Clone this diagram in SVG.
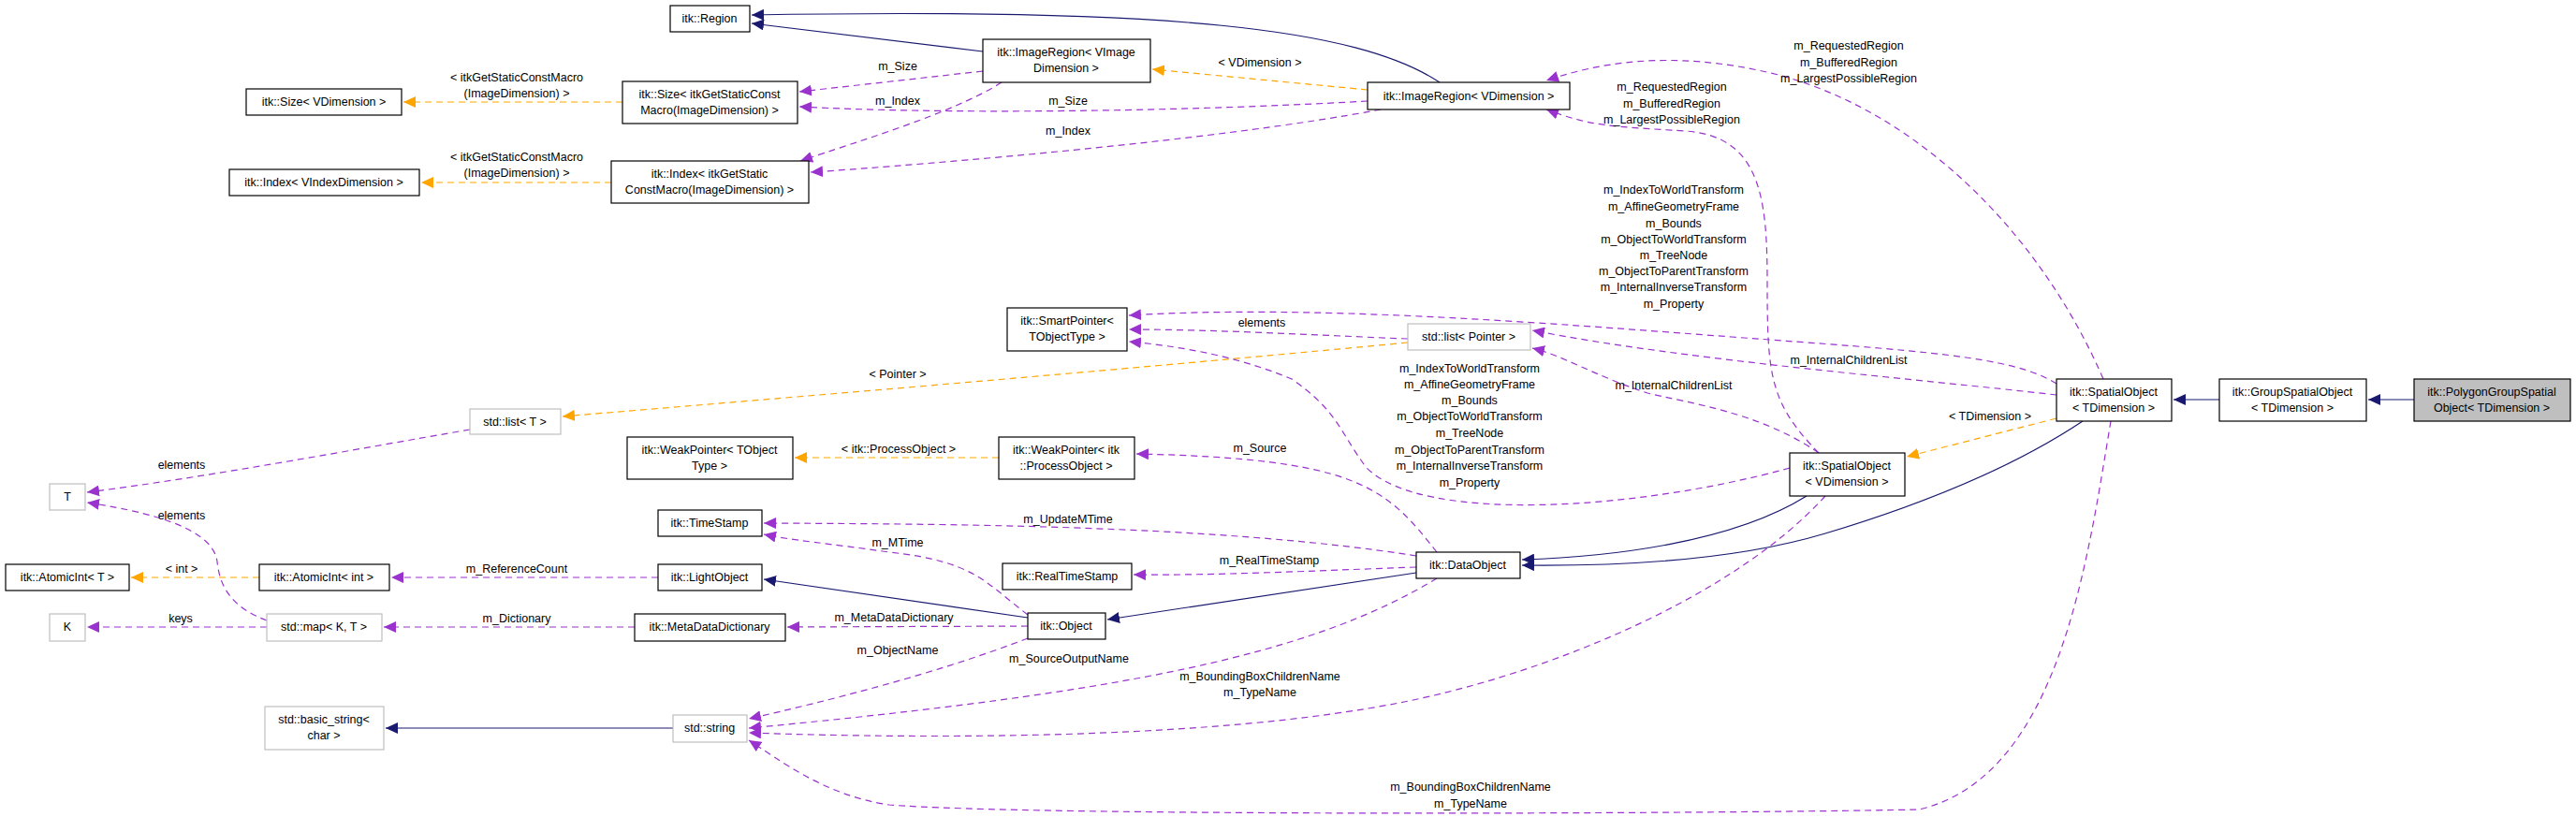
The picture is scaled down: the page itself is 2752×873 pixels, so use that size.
<svg xmlns="http://www.w3.org/2000/svg" width="2752" height="873" viewBox="0 0 2752 873">
<style>
text{font-family:"Liberation Sans",Arial,sans-serif;font-size:12.5px;fill:#000;text-anchor:middle}
.n rect{fill:#fff;stroke:#000;stroke-width:1.2}
.g rect{fill:#fff;stroke:#bfbfbf;stroke-width:1.2}
.e path{fill:none;stroke-width:1.2}
.inh{stroke:#191970}
.use{stroke:#9a32cd;stroke-dasharray:7,5}
.tpl{stroke:#ffa500;stroke-dasharray:7,5}
</style>
<defs>
<marker id="an" markerUnits="userSpaceOnUse" markerWidth="14" markerHeight="12" refX="13" refY="6" orient="auto"><path d="M0,0L13,6L0,12z" fill="#191970"/></marker>
<marker id="ap" markerUnits="userSpaceOnUse" markerWidth="14" markerHeight="12" refX="13" refY="6" orient="auto"><path d="M0,0L13,6L0,12z" fill="#9a32cd"/></marker>
<marker id="ao" markerUnits="userSpaceOnUse" markerWidth="14" markerHeight="12" refX="13" refY="6" orient="auto"><path d="M0,0L13,6L0,12z" fill="#ffa500"/></marker>
</defs>
<rect width="2752" height="873" fill="#fff"/>
<g id="connectors" class="e">
<path class="inh" marker-end="url(#an)" d="M1050,55 L803,25"/>
<path class="inh" marker-end="url(#an)" d="M1538,88 C1450,30 1250,8 803,16"/>
<path class="tpl" marker-end="url(#ao)" d="M1461,96 L1231,74"/>
<path class="use" marker-end="url(#ap)" d="M1050,76 L854,98"/>
<path class="use" marker-end="url(#ap)" d="M1461,108 C1250,120 1000,122 854,114"/>
<path class="use" marker-end="url(#ap)" d="M1070,88 C1020,120 920,150 855,172"/>
<path class="use" marker-end="url(#ap)" d="M1475,117 C1300,150 1000,175 866,184"/>
<path class="tpl" marker-end="url(#ao)" d="M665,109 L431,109"/>
<path class="tpl" marker-end="url(#ao)" d="M653,195 L450,195"/>
<path class="use" marker-end="url(#ap)" d="M2247,405 C2180,250 2050,120 1900,80 C1780,50 1700,70 1652,86"/>
<path class="use" marker-end="url(#ap)" d="M1943,484 C1890,430 1888,400 1888,300 C1888,210 1880,145 1800,140 C1720,135 1700,135 1652,117"/>
<path class="use" marker-end="url(#ap)" d="M2197,410 C2150,380 2050,375 1850,360 C1650,345 1400,325 1206,337"/>
<path class="use" marker-end="url(#ap)" d="M2197,422 C2050,405 1800,385 1637,353"/>
<path class="use" marker-end="url(#ap)" d="M1504,362 C1400,358 1300,352 1206,352"/>
<path class="tpl" marker-end="url(#ao)" d="M1504,366 C1200,395 900,420 601,445"/>
<path class="use" marker-end="url(#ap)" d="M1912,500 C1750,545 1520,560 1460,500 C1430,460 1430,440 1380,405 C1320,380 1260,370 1206,365"/>
<path class="use" marker-end="url(#ap)" d="M1943,484 C1880,440 1800,430 1760,420 C1700,400 1670,380 1637,372"/>
<path class="tpl" marker-end="url(#ao)" d="M2197,447 L2037,488"/>
<path class="inh" marker-end="url(#an)" d="M2371,427 L2322,427"/>
<path class="inh" marker-end="url(#an)" d="M2579,427 L2530,427"/>
<path class="inh" marker-end="url(#an)" d="M1930,530 C1850,580 1720,595 1626,598"/>
<path class="inh" marker-end="url(#an)" d="M2225,450 C2150,500 2050,540 1950,570 C1850,600 1720,605 1626,604"/>
<path class="inh" marker-end="url(#an)" d="M1513,612 L1183,662"/>
<path class="inh" marker-end="url(#an)" d="M1098,660 L816,619"/>
<path class="use" marker-end="url(#ap)" d="M1513,594 C1300,560 1000,560 816,559"/>
<path class="use" marker-end="url(#ap)" d="M1098,657 C1050,620 1040,600 950,590 C880,580 850,578 816,571"/>
<path class="use" marker-end="url(#ap)" d="M1513,606 C1400,610 1300,615 1211,614"/>
<path class="use" marker-end="url(#ap)" d="M1535,590 C1480,520 1450,490 1214,485"/>
<path class="tpl" marker-end="url(#ao)" d="M1067,489 L849,489"/>
<path class="use" marker-end="url(#ap)" d="M1098,669 L841,670"/>
<path class="use" marker-end="url(#ap)" d="M1098,682 C1000,720 880,750 800,768"/>
<path class="use" marker-end="url(#ap)" d="M1535,618 C1400,700 1200,740 800,778"/>
<path class="use" marker-end="url(#ap)" d="M1950,530 C1850,640 1650,720 1500,750 C1300,790 1000,790 800,783"/>
<path class="use" marker-end="url(#ap)" d="M2255,450 C2230,600 2200,830 2050,865 C1800,870 1100,872 950,860 C880,850 830,810 800,791"/>
<path class="inh" marker-end="url(#an)" d="M719,778 L412,778"/>
<path class="use" marker-end="url(#ap)" d="M703,617 L418,617"/>
<path class="tpl" marker-end="url(#ao)" d="M277,617 L140,617"/>
<path class="use" marker-end="url(#ap)" d="M678,670 L410,670"/>
<path class="use" marker-end="url(#ap)" d="M285,670 L93,670"/>
<path class="use" marker-end="url(#ap)" d="M502,459 C380,480 220,510 93,526"/>
<path class="use" marker-end="url(#ap)" d="M285,663 C250,650 235,630 232,600 C228,570 180,550 93,537"/>
</g>
<g id="edge-labels">
<text x="552" y="87">&lt; itkGetStaticConstMacro</text><text x="552" y="104">(ImageDimension) &gt;</text>
<text x="552" y="172">&lt; itkGetStaticConstMacro</text><text x="552" y="189">(ImageDimension) &gt;</text>
<text x="1346" y="71">&lt; VDimension &gt;</text>
<text x="959" y="75">m_Size</text><text x="959" y="112">m_Index</text>
<text x="1141" y="112">m_Size</text><text x="1141" y="144">m_Index</text>
<text x="1975" y="53">m_RequestedRegion</text><text x="1975" y="71">m_BufferedRegion</text><text x="1975" y="88">m_LargestPossibleRegion</text>
<text x="1786" y="97">m_RequestedRegion</text><text x="1786" y="115">m_BufferedRegion</text><text x="1786" y="132">m_LargestPossibleRegion</text>
<text x="1788" y="207">m_IndexToWorldTransform</text><text x="1788" y="225">m_AffineGeometryFrame</text><text x="1788" y="243">m_Bounds</text><text x="1788" y="260">m_ObjectToWorldTransform</text><text x="1788" y="277">m_TreeNode</text><text x="1788" y="294">m_ObjectToParentTransform</text><text x="1788" y="311">m_InternalInverseTransform</text><text x="1788" y="329">m_Property</text>
<text x="1348" y="349">elements</text>
<text x="959" y="404">&lt; Pointer &gt;</text>
<text x="1788" y="416">m_InternalChildrenList</text>
<text x="1975" y="389">m_InternalChildrenList</text>
<text x="2126" y="449">&lt; TDimension &gt;</text>
<text x="1570" y="398">m_IndexToWorldTransform</text><text x="1570" y="415">m_AffineGeometryFrame</text><text x="1570" y="432">m_Bounds</text><text x="1570" y="449">m_ObjectToWorldTransform</text><text x="1570" y="467">m_TreeNode</text><text x="1570" y="485">m_ObjectToParentTransform</text><text x="1570" y="502">m_InternalInverseTransform</text><text x="1570" y="520">m_Property</text>
<text x="960" y="484">&lt; itk::ProcessObject &gt;</text>
<text x="1346" y="483">m_Source</text>
<text x="1141" y="559">m_UpdateMTime</text>
<text x="959" y="584">m_MTime</text>
<text x="1356" y="603">m_RealTimeStamp</text>
<text x="955" y="664">m_MetaDataDictionary</text>
<text x="959" y="699">m_ObjectName</text>
<text x="1142" y="708">m_SourceOutputName</text>
<text x="1346" y="727">m_BoundingBoxChildrenName</text><text x="1346" y="744">m_TypeName</text>
<text x="1571" y="845">m_BoundingBoxChildrenName</text><text x="1571" y="863">m_TypeName</text>
<text x="194" y="501">elements</text><text x="194" y="555">elements</text>
<text x="194" y="612">&lt; int &gt;</text>
<text x="552" y="612">m_ReferenceCount</text>
<text x="193" y="665">keys</text>
<text x="552" y="665">m_Dictionary</text>
</g>
<g id="region" class="n"><rect x="716" y="6" width="85" height="28"/><text x="758" y="24">itk::Region</text></g>
<g id="sizeV" class="n"><rect x="263" y="95" width="166" height="28"/><text x="346" y="113">itk::Size&lt; VDimension &gt;</text></g>
<g id="sizeM" class="n"><rect x="665" y="87" width="187" height="45"/><text x="758" y="105">itk::Size&lt; itkGetStaticConst</text><text x="758" y="122">Macro(ImageDimension) &gt;</text></g>
<g id="indexV" class="n"><rect x="245" y="181" width="203" height="28"/><text x="346" y="199">itk::Index&lt; VIndexDimension &gt;</text></g>
<g id="indexM" class="n"><rect x="653" y="172" width="211" height="45"/><text x="758" y="190">itk::Index&lt; itkGetStatic</text><text x="758" y="207">ConstMacro(ImageDimension) &gt;</text></g>
<g id="imgRegionVI" class="n"><rect x="1050" y="42" width="179" height="46"/><text x="1139" y="60">itk::ImageRegion&lt; VImage</text><text x="1139" y="77">Dimension &gt;</text></g>
<g id="imgRegionV" class="n"><rect x="1461" y="88" width="216" height="29"/><text x="1569" y="107">itk::ImageRegion&lt; VDimension &gt;</text></g>
<g id="smartPtr" class="n"><rect x="1076" y="329" width="128" height="46"/><text x="1140" y="347">itk::SmartPointer&lt;</text><text x="1140" y="364">TObjectType &gt;</text></g>
<g id="listPointer" class="g"><rect x="1504" y="346" width="131" height="28"/><text x="1569" y="364">std::list&lt; Pointer &gt;</text></g>
<g id="listT" class="g"><rect x="502" y="437" width="97" height="27"/><text x="550" y="455">std::list&lt; T &gt;</text></g>
<g id="weakT" class="n"><rect x="670" y="467" width="177" height="45"/><text x="758" y="485">itk::WeakPointer&lt; TObject</text><text x="758" y="502">Type &gt;</text></g>
<g id="weakPO" class="n"><rect x="1067" y="467" width="145" height="45"/><text x="1139" y="485">itk::WeakPointer&lt; itk</text><text x="1139" y="502">::ProcessObject &gt;</text></g>
<g id="T" class="g"><rect x="53" y="517" width="38" height="28"/><text x="72" y="535">T</text></g>
<g id="timeStamp" class="n"><rect x="703" y="545" width="111" height="28"/><text x="758" y="563">itk::TimeStamp</text></g>
<g id="realTimeStamp" class="n"><rect x="1071" y="602" width="138" height="28"/><text x="1140" y="620">itk::RealTimeStamp</text></g>
<g id="dataObject" class="n"><rect x="1513" y="590" width="111" height="28"/><text x="1568" y="608">itk::DataObject</text></g>
<g id="atomicT" class="n"><rect x="6" y="603" width="132" height="28"/><text x="72" y="621">itk::AtomicInt&lt; T &gt;</text></g>
<g id="atomicInt" class="n"><rect x="277" y="603" width="139" height="28"/><text x="346" y="621">itk::AtomicInt&lt; int &gt;</text></g>
<g id="lightObject" class="n"><rect x="703" y="603" width="111" height="28"/><text x="758" y="621">itk::LightObject</text></g>
<g id="K" class="g"><rect x="53" y="656" width="38" height="29"/><text x="72" y="674">K</text></g>
<g id="map" class="g"><rect x="285" y="656" width="123" height="29"/><text x="346" y="674">std::map&lt; K, T &gt;</text></g>
<g id="metaDict" class="n"><rect x="678" y="656" width="161" height="29"/><text x="758" y="674">itk::MetaDataDictionary</text></g>
<g id="object" class="n"><rect x="1098" y="655" width="83" height="28"/><text x="1139" y="673">itk::Object</text></g>
<g id="basicString" class="g"><rect x="283" y="755" width="127" height="46"/><text x="346" y="773">std::basic_string&lt;</text><text x="346" y="790">char &gt;</text></g>
<g id="string" class="g"><rect x="719" y="764" width="79" height="29"/><text x="758" y="782">std::string</text></g>
<g id="spatialV" class="n"><rect x="1912" y="484" width="123" height="46"/><text x="1973" y="502">itk::SpatialObject</text><text x="1973" y="519">&lt; VDimension &gt;</text></g>
<g id="spatialT" class="n"><rect x="2197" y="405" width="123" height="45"/><text x="2258" y="423">itk::SpatialObject</text><text x="2258" y="440">&lt; TDimension &gt;</text></g>
<g id="group" class="n"><rect x="2371" y="405" width="157" height="45"/><text x="2449" y="423">itk::GroupSpatialObject</text><text x="2449" y="440">&lt; TDimension &gt;</text></g>
<g id="polygonGroup" class="n"><rect x="2579" y="405" width="167" height="45" style="fill:#bfbfbf"/><text x="2662" y="423">itk::PolygonGroupSpatial</text><text x="2662" y="440">Object&lt; TDimension &gt;</text></g>
</svg>
